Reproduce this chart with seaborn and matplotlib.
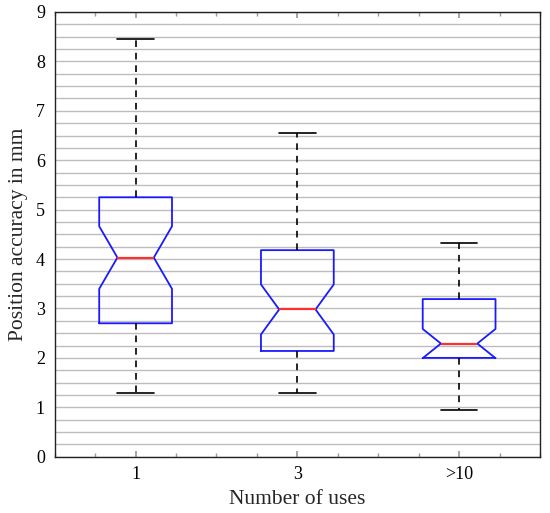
import numpy as np
import pandas as pd
import matplotlib
matplotlib.use("Agg")
import matplotlib.pyplot as plt
import seaborn as sns
from matplotlib.ticker import MultipleLocator

uses_1 = [1.28, 1.55, 1.80, 1.95, 2.10, 2.25, 2.38, 2.50, 2.61, 2.70,
          2.70, 2.85, 3.02, 3.20, 3.35, 3.50, 3.62, 3.78, 3.90, 4.03,
          4.03, 4.15, 4.30, 4.42, 4.55, 4.70, 4.82, 4.95, 5.10, 5.25,
          5.25, 5.48, 5.70, 5.95, 6.20, 6.55, 6.90, 7.35, 7.90, 8.45]
uses_3 = [1.28, 1.45, 1.58, 1.70, 1.80, 1.88, 1.95, 2.02, 2.08, 2.14,
          2.14, 2.22, 2.31, 2.40, 2.50, 2.60, 2.70, 2.80, 2.90, 2.98,
          2.98, 3.08, 3.18, 3.30, 3.42, 3.55, 3.68, 3.82, 4.00, 4.18,
          4.18, 4.35, 4.55, 4.75, 4.95, 5.20, 5.50, 5.80, 6.15, 6.55]
uses_10 = [0.95, 1.15, 1.32, 1.48, 1.60, 1.70, 1.78, 1.86, 1.93, 2.00,
           2.00, 2.04, 2.08, 2.12, 2.15, 2.18, 2.21, 2.24, 2.27, 2.29,
           2.29, 2.38, 2.48, 2.58, 2.68, 2.78, 2.88, 2.98, 3.08, 3.19,
           3.19, 3.30, 3.42, 3.55, 3.68, 3.80, 3.92, 4.05, 4.18, 4.32]
categories = ["1", "3", ">10"]

df = pd.DataFrame({
    "uses": [categories[0]] * len(uses_1) + [categories[1]] * len(uses_3) + [categories[2]] * len(uses_10),
    "accuracy": uses_1 + uses_3 + uses_10,
})

sns.set_theme(style="ticks")
plt.rcParams["font.family"] = ["Liberation Serif", "DejaVu Serif"]

fig = plt.figure(figsize=(5.5, 5.13), dpi=100)
ax = fig.add_axes([0.0995, 0.1097, 0.8823, 0.867])

ax.yaxis.set_minor_locator(MultipleLocator(0.25))
ax.grid(True, axis="y", which="both", color="#bdbdbd", linewidth=1.0)
ax.set_axisbelow(True)

sns.boxplot(data=df, x="uses", y="accuracy", order=categories, ax=ax,
            width=0.45, fill=False, notch=True, showfliers=False,
            boxprops={"color": "#1a1aff", "linewidth": 1.3},
            medianprops={"color": "#ff3030", "linewidth": 1.6},
            whiskerprops={"color": "black", "linestyle": (0, (4, 3.5)), "linewidth": 1.2},
            capprops={"color": "black", "linewidth": 1.2})

ax.set_ylim(0, 9)
ax.set_xlim(-0.5, 2.5)
ax.yaxis.set_major_locator(MultipleLocator(1))
ax.xaxis.set_minor_locator(MultipleLocator(0.25))
ax.tick_params(axis="both", which="both", direction="in", top=True, right=True,
               colors="#999999", labelcolor="black", labelsize=13, pad=7)
ax.tick_params(axis="both", which="major", length=4)
ax.tick_params(axis="both", which="minor", length=3)
ax.tick_params(axis="y", which="both", length=0)

for s in ax.spines.values():
    s.set_color("#222222")
    s.set_linewidth(1.0)

ax.set_xlabel("Number of uses", fontsize=15.5, labelpad=5)
ax.set_ylabel("Position accuracy in mm", fontsize=15.5, labelpad=6)

fig.savefig("out.png", dpi=100)
